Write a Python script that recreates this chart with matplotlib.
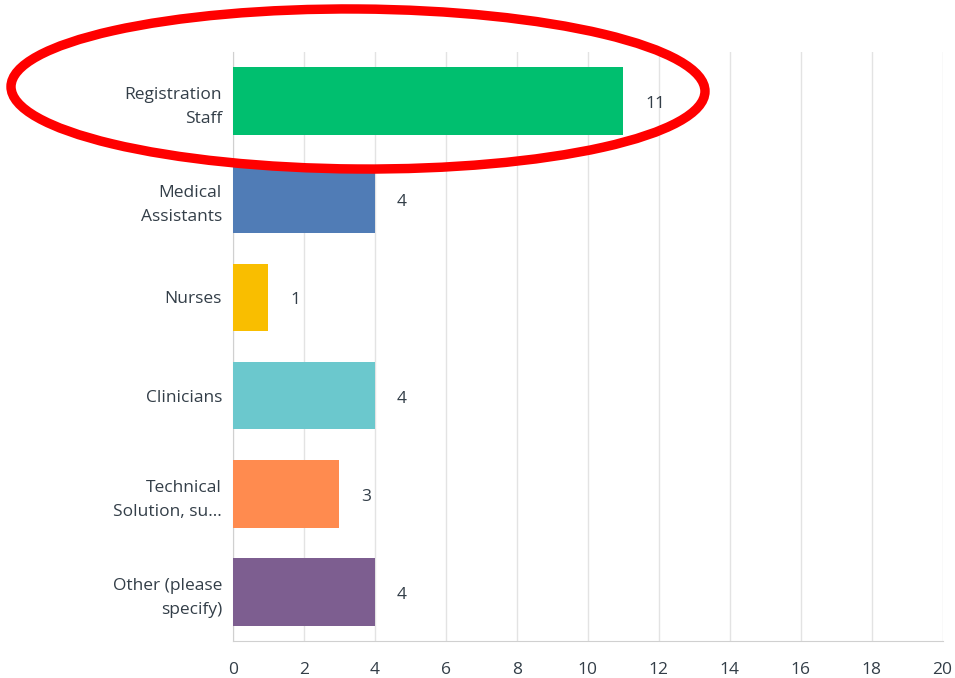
import matplotlib
matplotlib.use("Agg")
from matplotlib import pyplot as plt
from matplotlib.patches import Ellipse

categories = ["Registration\nStaff", "Medical\nAssistants", "Nurses", "Clinicians",
              "Technical\nSolution, su...", "Other (please\nspecify)"]
counts = [11, 4, 1, 4, 3, 4]
bar_colors = ["#00BF6F", "#507CB6", "#F9BE00", "#6BC8CD", "#FF8B4F", "#7D5E90"]
x_ticks = list(range(0, 21, 2))

text_color = "#333E48"
plt.rcParams['font.family'] = ['Open Sans', 'DejaVu Sans']

fig = plt.figure(figsize=(9.55, 6.78), dpi=100)
ax = fig.add_axes([0.244, 0.0546, 0.743, 0.8686])

ypos = list(range(len(categories)))
ax.barh(ypos, counts, height=0.69, color=bar_colors, zorder=3)
for y, v in zip(ypos, counts):
    ax.text(v + 0.62, y + 0.03, str(v), va="center", ha="left", fontsize=12.5, color=text_color)

ax.set_xlim(0, 20)
ax.set_ylim(len(categories) - 0.5, -0.5)
ax.set_xticks(x_ticks)
ax.set_yticks(ypos)
ax.set_yticklabels(categories, fontsize=12.5, color=text_color, linespacing=1.65)
ax.tick_params(axis="x", length=0, pad=15, labelsize=12.5, labelcolor=text_color)
ax.tick_params(axis="y", length=0, pad=8)
ax.grid(axis="x", color="#E3E3E3", linewidth=1, zorder=0)

for side in ["top", "right"]:
    ax.spines[side].set_visible(False)
for side in ["left", "bottom"]:
    ax.spines[side].set_color("#D0D0D0")

# red ring around the top row, in figure inches
ring = Ellipse((3.58, 5.89), 6.94, 1.60, angle=-0.4, fill=False,
               edgecolor="#FF0000", linewidth=6.8, transform=fig.dpi_scale_trans, zorder=10)
fig.add_artist(ring)

fig.savefig("out.png", dpi=100)
